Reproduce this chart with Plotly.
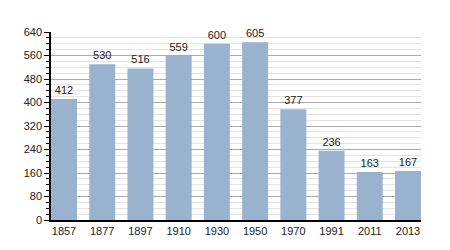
import plotly.graph_objects as go

years = ["1857", "1877", "1897", "1910", "1930", "1950", "1970", "1991", "2011", "2013"]
population = [412, 530, 516, 559, 600, 605, 377, 236, 163, 167]
y_ticks = [0, 80, 160, 240, 320, 400, 480, 560, 640]

gap = 0.32

fig = go.Figure(go.Bar(
    x=years, y=population,
    marker=dict(color="#99b3cf", line=dict(width=0)),
    text=[str(v) for v in population], textposition="outside",
    textfont=dict(family="Liberation Sans, Arial", size=11, color="#222"),
    cliponaxis=False,
))

fig.update_layout(
    width=450, height=250,
    margin=dict(l=51, r=29, t=32, b=30),
    paper_bgcolor="white", plot_bgcolor="white",
    bargap=gap,
    showlegend=False,
    font=dict(family="Liberation Sans, Arial", size=11, color="#222"),
)
fig.update_xaxes(
    type="category", range=[-0.5 + gap / 2, len(years) - 0.5 - gap / 2],
    showline=True, linecolor="black", linewidth=1.5,
    ticks="", showgrid=False, tickfont=dict(size=11),
)
fig.update_yaxes(
    range=[0, 640], tickvals=y_ticks, showline=True, linecolor="black", linewidth=1.5,
    ticks="outside", ticklen=5, tickcolor="black",
    showgrid=True, gridcolor="#aaaaaa", gridwidth=1,
    minor=dict(dtick=20, showgrid=True, gridcolor="#e3e3e3", ticks="outside", ticklen=3, tickcolor="black"),
    zeroline=False, tickfont=dict(size=11),
)

fig.write_html("out.html")
